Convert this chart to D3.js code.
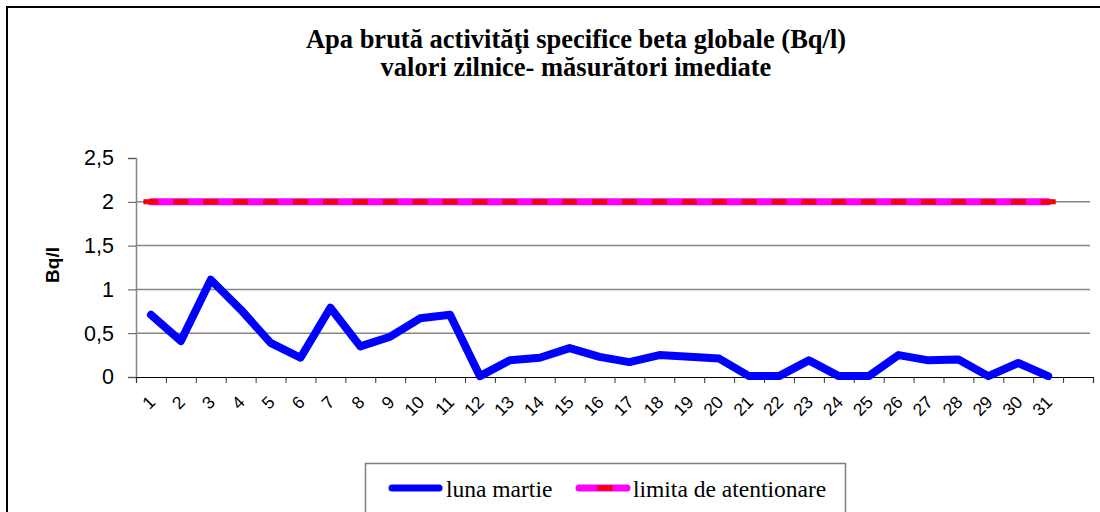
<!DOCTYPE html>
<html>
<head>
<meta charset="utf-8">
<script src="https://cdn.jsdelivr.net/npm/d3@7"></script>
<style>
  html, body { margin: 0; padding: 0; background: #fff; }
  svg { display: block; }
</style>
</head>
<body>
<div id="chart"></div>
<script>
(function() {
  var days, values, limit, yTicks, titleLines, seriesNames;
  var width = 1100, height = 512;
  var svg, x, y, line, plot, g;

  days = d3.range(1, 32);

  // daily values (Bq/l)
  values = [0.71, 0.41, 1.11, 0.77, 0.39, 0.22, 0.79, 0.35, 0.46, 0.67,
            0.71, 0.01, 0.19, 0.22, 0.33, 0.23, 0.17, 0.25, 0.23, 0.21,
            0.01, 0.01, 0.19, 0.01, 0.01, 0.25, 0.19, 0.2, 0.01, 0.16, 0.01];

  limit = days.map(function() { return 2; });

  yTicks = [0, 0.5, 1, 1.5, 2, 2.5];

  titleLines = ["Apa brută activităţi specifice beta globale (Bq/l)",
                "valori zilnice- măsurători imediate"];

  seriesNames = ["luna martie", "limita de atentionare"];

  plot = { left: 136, right: 1093, top: 158, bottom: 377 };

  svg = d3.select("#chart").append("svg")
    .attr("width", width).attr("height", height);

  svg.append("rect")
    .attr("x", 7).attr("y", 7)
    .attr("width", 1110).attr("height", 520)
    .attr("fill", "#fff").attr("stroke", "#000").attr("stroke-width", 2);

  // title
  svg.append("g").selectAll("text").data(titleLines).enter().append("text")
    .attr("x", 576)
    .attr("y", function(d, i) { return 48 + i * 28; })
    .attr("text-anchor", "middle")
    .style("font-family", "'Liberation Serif', 'Times New Roman', serif")
    .style("font-weight", "bold")
    .style("font-size", "26.5px")
    .text(function(d) { return d; });

  // x: 32 slots, the last one empty
  x = d3.scaleLinear().domain([0, days.length + 1]).range([plot.left, plot.right]);
  y = d3.scaleLinear().domain([0, 2.5]).range([plot.bottom, plot.top]);

  // gridlines
  svg.append("g").selectAll("line").data(yTicks.filter(function(t) { return t > 0 && t < 2.5; }))
    .enter().append("line")
    .attr("x1", plot.left).attr("x2", 1090)
    .attr("y1", function(d) { return y(d); }).attr("y2", function(d) { return y(d); })
    .attr("stroke", "#858585").attr("stroke-width", 1.5);

  // y axis
  g = svg.append("g").attr("transform", "translate(" + plot.left + ",0)")
    .call(d3.axisLeft(y).tickValues(yTicks).tickSize(8).tickPadding(14)
      .tickFormat(function(d) { return String(d).replace(".", ","); }));
  g.select(".domain").attr("stroke", "#858585").attr("stroke-width", 1.5);
  g.selectAll(".tick line").attr("stroke", "#555");
  g.selectAll(".tick line").attr("x2", -8);
  g.selectAll(".tick text")
    .style("font-family", "Arial, 'Liberation Sans', sans-serif")
    .style("font-size", "21.5px").attr("fill", "#000");

  // x axis
  g = svg.append("g").attr("transform", "translate(0," + plot.bottom + ")")
    .call(d3.axisBottom(x).tickValues(d3.range(0, days.length + 2)).tickSize(6).tickFormat(""));
  g.select(".domain").attr("stroke", "#000").attr("stroke-width", 1.2);
  g.selectAll(".tick line").attr("stroke", "#333");

  svg.append("g").selectAll("text").data(days).enter().append("text")
    .attr("transform", function(d, i) {
      return "translate(" + (x(i + 0.5) + 1) + "," + (plot.bottom + 22) + ") rotate(-45)";
    })
    .attr("text-anchor", "end")
    .attr("dy", "0.35em")
    .style("font-family", "Arial, 'Liberation Sans', sans-serif")
    .style("font-size", "17.5px")
    .text(function(d) { return d; });

  // y title
  svg.append("text")
    .attr("transform", "translate(52,265) rotate(-90)")
    .attr("text-anchor", "middle")
    .attr("dy", "0.35em")
    .style("font-family", "Arial, 'Liberation Sans', sans-serif")
    .style("font-weight", "bold")
    .style("font-size", "19px")
    .text("Bq/l");

  line = d3.line()
    .x(function(d, i) { return x(i + 0.5); })
    .y(function(d) { return y(d); });

  // limit line with dash markers
  svg.append("path").datum(limit)
    .attr("d", line)
    .attr("fill", "none").attr("stroke", "#ff00ff")
    .attr("stroke-width", 7).attr("stroke-linecap", "round");

  svg.append("g").selectAll("rect").data(limit).enter().append("rect")
    .attr("x", function(d, i) { return x(i + 0.5) - 7; })
    .attr("y", function(d) { return y(d) - 2; })
    .attr("width", 14).attr("height", 4)
    .attr("fill", "#ff0000").attr("stroke", "#e00000").attr("stroke-width", 1);

  // daily series
  svg.append("path").datum(values)
    .attr("d", line)
    .attr("fill", "none").attr("stroke", "#0000ff")
    .attr("stroke-width", 8).attr("stroke-linejoin", "round").attr("stroke-linecap", "round");

  // legend
  var lg = svg.append("g");
  lg.append("rect")
    .attr("x", 365.5).attr("y", 463.5).attr("width", 480).attr("height", 60)
    .attr("fill", "#fff").attr("stroke", "#7f7f7f").attr("stroke-width", 1.5);

  lg.append("line")
    .attr("x1", 392).attr("x2", 439).attr("y1", 488).attr("y2", 488)
    .attr("stroke", "#0000ff").attr("stroke-width", 7).attr("stroke-linecap", "round");
  lg.append("line")
    .attr("x1", 579).attr("x2", 627).attr("y1", 488).attr("y2", 488)
    .attr("stroke", "#ff00ff").attr("stroke-width", 7).attr("stroke-linecap", "round");
  lg.append("rect")
    .attr("x", 605 - 7).attr("y", 486).attr("width", 14).attr("height", 4)
    .attr("fill", "#ff0000").attr("stroke", "#e00000").attr("stroke-width", 1);

  lg.selectAll("text").data(seriesNames).enter().append("text")
    .attr("x", function(d, i) { return i === 0 ? 446 : 633; })
    .attr("y", 497)
    .style("font-family", "'Liberation Serif', 'Times New Roman', serif")
    .style("font-size", "23.5px")
    .text(function(d) { return d; });
}).call(this);
</script>
</body>
</html>
